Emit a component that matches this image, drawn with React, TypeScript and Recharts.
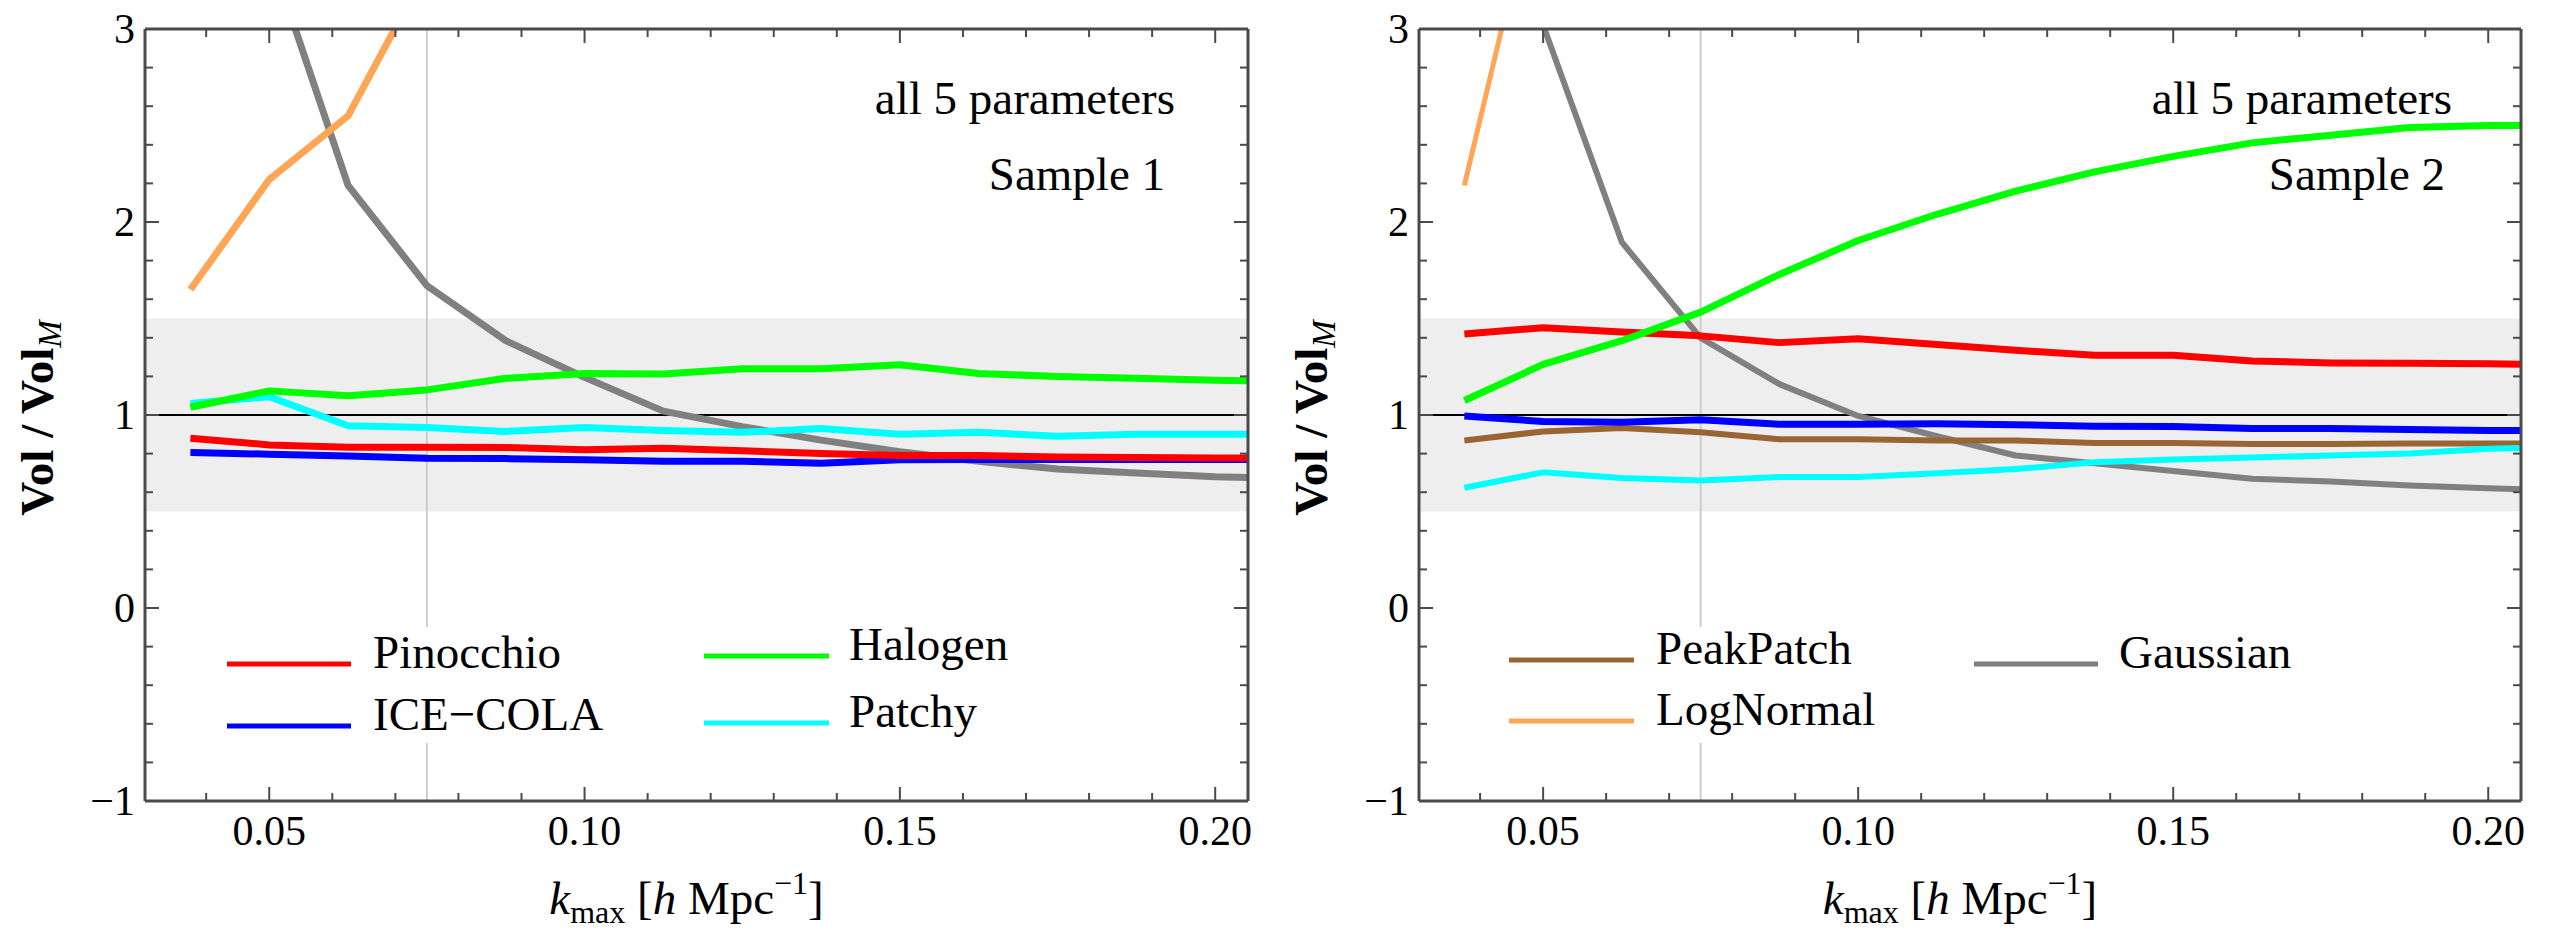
import { Legend, Line, LineChart, ReferenceArea, ReferenceLine, XAxis, YAxis } from "recharts";

const PANEL_W = 1276;
const PANEL_H = 931;
const SERIF = "'Liberation Serif', 'DejaVu Serif', serif";
const FRAME = "#4a4a4a";
const serifStyle = { fontFamily: SERIF };

// k_max sampling; the last point sits just past the right frame and gets clipped
const kValues = [0.0375, 0.05, 0.0625, 0.075, 0.0875, 0.1, 0.1125, 0.125, 0.1375, 0.15, 0.1625, 0.175, 0.1875, 0.2, 0.2125];

// Sample 1
const s1Pinocchio = [0.88, 0.845, 0.833, 0.833, 0.832, 0.82, 0.828, 0.815, 0.8, 0.79, 0.79, 0.782, 0.78, 0.777, 0.776];
const s1IceCola = [0.806, 0.797, 0.788, 0.776, 0.774, 0.768, 0.76, 0.76, 0.75, 0.768, 0.77, 0.77, 0.77, 0.77, 0.77];
const s1Halogen = [1.04, 1.125, 1.1, 1.13, 1.19, 1.215, 1.213, 1.24, 1.24, 1.26, 1.215, 1.2, 1.19, 1.18, 1.175];
const s1Patchy = [1.06, 1.095, 0.944, 0.935, 0.915, 0.935, 0.92, 0.91, 0.93, 0.9, 0.91, 0.89, 0.9, 0.9, 0.9];
const s1Gaussian = [5.2, 3.4, 2.19, 1.67, 1.385, 1.195, 1.02, 0.94, 0.87, 0.81, 0.76, 0.72, 0.7, 0.68, 0.67];
const s1LogNormal = [1.65, 2.22, 2.55, 3.31, 4.3, 5.5, null, null, null, null, null, null, null, null, null];

// Sample 2
const s2Pinocchio = [1.42, 1.452, 1.43, 1.41, 1.375, 1.395, 1.365, 1.335, 1.31, 1.31, 1.28, 1.27, 1.268, 1.265, 1.26];
const s2IceCola = [0.995, 0.966, 0.963, 0.975, 0.952, 0.952, 0.955, 0.95, 0.942, 0.94, 0.93, 0.93, 0.925, 0.92, 0.92];
const s2Halogen = [1.075, 1.262, 1.385, 1.533, 1.728, 1.904, 2.04, 2.16, 2.26, 2.34, 2.41, 2.45, 2.49, 2.5, 2.5];
const s2Patchy = [0.623, 0.703, 0.673, 0.66, 0.679, 0.679, 0.698, 0.72, 0.755, 0.77, 0.78, 0.79, 0.8, 0.825, 0.835];
const s2PeakPatch = [0.868, 0.915, 0.933, 0.911, 0.874, 0.874, 0.868, 0.868, 0.855, 0.855, 0.85, 0.85, 0.852, 0.852, 0.852];
const s2Gaussian = [4.6, 3.02, 1.895, 1.4, 1.16, 0.995, 0.89, 0.79, 0.75, 0.71, 0.67, 0.655, 0.635, 0.62, 0.61];
const s2LogNormal = [2.19, 3.9, 5.6, null, null, null, null, null, null, null, null, null, null, null, null];

// axes
const xMajorTicks = [0.05, 0.1, 0.15, 0.2];
const xMinorTicks = [0.04, 0.06, 0.07, 0.08, 0.09, 0.11, 0.12, 0.13, 0.14, 0.16, 0.17, 0.18, 0.19];
const yMajorTicks = [-1, 0, 1, 2, 3];
const yMinorTicks = [-0.8, -0.6, -0.4, -0.2, 0.2, 0.4, 0.6, 0.8, 1.2, 1.4, 1.6, 1.8, 2.2, 2.4, 2.6, 2.8];
const X_DOMAIN: [number, number] = [0.0303, 0.2052];
const Y_DOMAIN: [number, number] = [-1, 3];

const xTicks = [...xMajorTicks, ...xMinorTicks].sort((a, b) => a - b);
const yTicks = [...yMajorTicks, ...yMinorTicks].sort((a, b) => a - b);

const isMajor = (v: number, majors: number[]) => majors.some((m) => Math.abs(m - v) < 1e-9);
const fmtY = (v: number) => (v < 0 ? `\u2212${Math.abs(v)}` : `${v}`);

const MAJOR_LEN = 14;
const MINOR_LEN = 8;
const TICK_FONT = 42;

function BottomTick(props: any) {
  const { x, y, payload } = props;
  const major = isMajor(payload.value, xMajorTicks);
  return (
    <g>
      <line x1={x} y1={y} x2={x} y2={y - (major ? MAJOR_LEN : MINOR_LEN)} stroke={FRAME} strokeWidth={2} />
      {major ? (
        <text x={x} y={y + 44} textAnchor="middle" style={serifStyle} fontSize={TICK_FONT} fill="#000">
          {payload.value.toFixed(2)}
        </text>
      ) : null}
    </g>
  );
}

function TopTick(props: any) {
  const { x, y, payload } = props;
  const major = isMajor(payload.value, xMajorTicks);
  return <line x1={x} y1={y} x2={x} y2={y + (major ? MAJOR_LEN : MINOR_LEN)} stroke={FRAME} strokeWidth={2} />;
}

function LeftTick(props: any) {
  const { x, y, payload } = props;
  const major = isMajor(payload.value, yMajorTicks);
  return (
    <g>
      <line x1={x} y1={y} x2={x + (major ? MAJOR_LEN : MINOR_LEN)} y2={y} stroke={FRAME} strokeWidth={2} />
      {major ? (
        <text x={x - 10} y={y + 14} textAnchor="end" style={serifStyle} fontSize={TICK_FONT} fill="#000">
          {fmtY(payload.value)}
        </text>
      ) : null}
    </g>
  );
}

function RightTick(props: any) {
  const { x, y, payload } = props;
  const major = isMajor(payload.value, yMajorTicks);
  return <line x1={x} y1={y} x2={x - (major ? MAJOR_LEN : MINOR_LEN)} y2={y} stroke={FRAME} strokeWidth={2} />;
}

// "far" series are bound to the top/right axes (same domains) so those frame axes get scaled too
type Series = { key: string; name: string; color: string; width: number; values: (number | null)[]; legend: boolean; far?: boolean };

const GREY = "#808080";
const ORANGE = "#ffa556";

const sample1Series: Series[] = [
  { key: "gaussian", name: "Gaussian", color: GREY, width: 7, values: s1Gaussian, legend: false, far: true },
  { key: "lognormal", name: "LogNormal", color: ORANGE, width: 7, values: s1LogNormal, legend: false, far: true },
  { key: "icecola", name: "ICE\u2212COLA", color: "#0000ff", width: 7, values: s1IceCola, legend: true },
  { key: "pinocchio", name: "Pinocchio", color: "#ff0000", width: 7, values: s1Pinocchio, legend: true },
  { key: "patchy", name: "Patchy", color: "#00ffff", width: 7, values: s1Patchy, legend: true },
  { key: "halogen", name: "Halogen", color: "#00ff00", width: 7, values: s1Halogen, legend: true },
];

const sample2Series: Series[] = [
  { key: "gaussian", name: "Gaussian", color: GREY, width: 6, values: s2Gaussian, legend: true, far: true },
  { key: "lognormal", name: "LogNormal", color: ORANGE, width: 5, values: s2LogNormal, legend: true, far: true },
  { key: "peakpatch", name: "PeakPatch", color: "#996633", width: 6, values: s2PeakPatch, legend: true },
  { key: "patchy", name: "Patchy", color: "#00ffff", width: 6, values: s2Patchy, legend: false },
  { key: "icecola", name: "ICE\u2212COLA", color: "#0000ff", width: 7, values: s2IceCola, legend: false },
  { key: "pinocchio", name: "Pinocchio", color: "#ff0000", width: 7, values: s2Pinocchio, legend: false },
  { key: "halogen", name: "Halogen", color: "#00ff00", width: 7, values: s2Halogen, legend: false },
];

type Slot = { x1: number; x2: number; y: number; tx: number };

const sample1Slots: Record<string, Slot> = {
  Pinocchio: { x1: 227, x2: 351, y: 664, tx: 373 },
  "ICE\u2212COLA": { x1: 227, x2: 351, y: 726, tx: 373 },
  Halogen: { x1: 704, x2: 829, y: 656, tx: 849 },
  Patchy: { x1: 704, x2: 829, y: 723, tx: 849 },
};

const sample2Slots: Record<string, Slot> = {
  PeakPatch: { x1: 233, x2: 358, y: 660, tx: 380 },
  LogNormal: { x1: 233, x2: 358, y: 721, tx: 380 },
  Gaussian: { x1: 698, x2: 822, y: 664, tx: 843 },
};

function legendContent(slots: Record<string, Slot>, box: { x: number; w: number }) {
  return function LegendContent({ payload }: any) {
    return (
      <svg width={PANEL_W} height={PANEL_H} style={{ position: "absolute", left: 0, top: 0 }}>
        <rect x={box.x} y={627} width={box.w} height={116} fill="#fff" />
        {(payload ?? []).map((entry: any) => {
          const s = slots[entry.value];
          if (!s) return null;
          return (
            <g key={entry.value}>
              <line x1={s.x1} x2={s.x2} y1={s.y} y2={s.y} stroke={entry.color} strokeWidth={5} />
              <text x={s.tx} y={s.y + 4} style={serifStyle} fontSize={47} fill="#000">
                {entry.value}
              </text>
            </g>
          );
        })}
      </svg>
    );
  };
}

type Margin = { top: number; right: number; bottom: number; left: number };

function Panel({
  series,
  sample,
  margin,
  slots,
  box,
  notes,
}: {
  series: Series[];
  sample: string;
  margin: Margin;
  slots: Record<string, Slot>;
  box: { x: number; w: number };
  notes: [number, number];
}) {
  const data = kValues.map((k, i) => {
    const row: Record<string, number | null> = { k };
    for (const s of series) row[s.key] = s.values[i];
    return row;
  });
  const plotLeft = margin.left + 1;
  const plotRight = PANEL_W - margin.right - 1;
  const plotBottom = PANEL_H - margin.bottom - 1;
  const axisLine = { stroke: FRAME, strokeWidth: 3 };

  return (
    <div style={{ position: "relative", width: PANEL_W, height: PANEL_H }}>
      <LineChart width={PANEL_W} height={PANEL_H} data={data} margin={margin}>
        <XAxis xAxisId="b" dataKey="k" type="number" domain={X_DOMAIN} allowDataOverflow ticks={xTicks} interval={0}
          height={1} tickSize={0} tickMargin={0} tickLine={false} axisLine={axisLine} tick={BottomTick} />
        <XAxis xAxisId="t" dataKey="k" orientation="top" type="number" domain={X_DOMAIN} allowDataOverflow ticks={xTicks} interval={0}
          height={1} tickSize={0} tickMargin={0} tickLine={false} axisLine={axisLine} tick={TopTick} />
        <YAxis yAxisId="l" type="number" domain={Y_DOMAIN} allowDataOverflow ticks={yTicks} interval={0}
          width={1} tickSize={0} tickMargin={0} tickLine={false} axisLine={axisLine} tick={LeftTick} />
        <YAxis yAxisId="r" orientation="right" type="number" domain={Y_DOMAIN} allowDataOverflow ticks={yTicks} interval={0}
          width={1} tickSize={0} tickMargin={0} tickLine={false} axisLine={axisLine} tick={RightTick} />
        <ReferenceArea xAxisId="b" yAxisId="l" y1={0.5} y2={1.5} fill="#eeeeee" fillOpacity={1} stroke="none" />
        <ReferenceLine xAxisId="b" yAxisId="l" x={0.075} stroke="#cdcdcd" strokeWidth={2} />
        <ReferenceLine xAxisId="b" yAxisId="l" y={1} stroke="#000" strokeWidth={2} />
        {series.map((s) => (
          <Line
            key={s.key}
            xAxisId={s.far ? "t" : "b"}
            yAxisId={s.far ? "r" : "l"}
            type="linear"
            dataKey={s.key}
            name={s.name}
            stroke={s.color}
            strokeWidth={s.width}
            strokeLinejoin="round"
            dot={false}
            activeDot={false}
            legendType={s.legend ? "line" : "none"}
            isAnimationActive={false}
          />
        ))}
        <Legend
          layout="horizontal"
          verticalAlign="middle"
          align="center"
          content={legendContent(slots, box)}
          wrapperStyle={{ left: 0, top: 0, width: PANEL_W, height: PANEL_H, pointerEvents: "none" }}
        />
      </LineChart>
      <svg width={PANEL_W} height={PANEL_H} style={{ position: "absolute", left: 0, top: 0, pointerEvents: "none" }}>
        <text
          x={plotLeft - 92}
          y={418}
          transform={`rotate(-90 ${plotLeft - 92} 418)`}
          textAnchor="middle"
          style={serifStyle}
          fontSize={47}
          fontWeight="bold"
        >
          Vol / Vol
          <tspan fontStyle="italic" fontWeight="normal" fontSize={33} dy={8}>M</tspan>
        </text>
        <text x={(plotLeft + plotRight) / 2 - 10} y={plotBottom + 113} textAnchor="middle" style={serifStyle} fontSize={47}>
          <tspan fontStyle="italic">k</tspan>
          <tspan fontSize={32} dy={9}>max</tspan>
          <tspan dy={-9}>{" ["}</tspan>
          <tspan fontStyle="italic">h</tspan>
          <tspan>{" Mpc"}</tspan>
          <tspan fontSize={32} dy={-20}>{"\u22121"}</tspan>
          <tspan dy={20}>]</tspan>
        </text>
        <text x={plotRight - notes[0]} y={114} textAnchor="end" style={serifStyle} fontSize={47}>
          all 5 parameters
        </text>
        <text x={plotRight - notes[1]} y={190} textAnchor="end" style={serifStyle} fontSize={47}>
          {sample}
        </text>
      </svg>
    </div>
  );
}

export default function App() {
  return (
    <div style={{ position: "absolute", left: 0, top: 0, width: 2552, height: 931, display: "flex", background: "#fff", fontFamily: SERIF }}>
      <Panel
        series={sample1Series}
        sample="Sample 1"
        margin={{ top: 28, right: 27, bottom: 129, left: 144 }}
        slots={sample1Slots}
        box={{ x: 215, w: 790 }}
        notes={[73, 83]}
      />
      <Panel
        series={sample2Series}
        sample="Sample 2"
        margin={{ top: 28, right: 30, bottom: 129, left: 142 }}
        slots={sample2Slots}
        box={{ x: 221, w: 810 }}
        notes={[69, 76]}
      />
    </div>
  );
}
